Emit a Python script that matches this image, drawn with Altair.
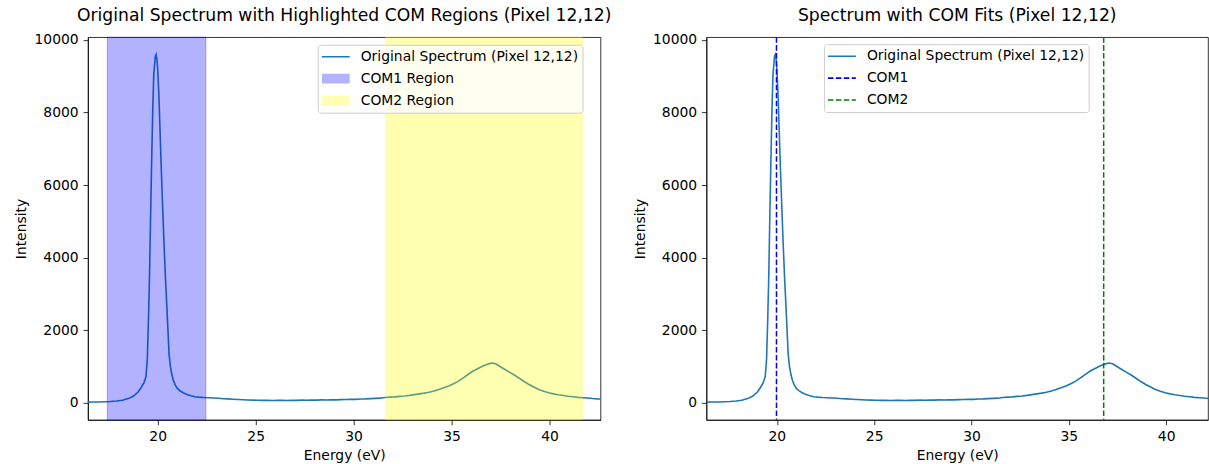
import altair as alt
import pandas as pd

FONT = "DejaVu Sans"

energy = [16.4, 16.7, 17.0, 17.3, 17.6, 17.9, 18.2, 18.5, 18.75, 19.0, 19.15, 19.3, 19.4, 19.47,
          19.53, 19.58, 19.63, 19.69, 19.75, 19.8, 19.84, 19.88, 19.92, 19.96, 20.0, 20.06, 20.12,
          20.19, 20.26, 20.33, 20.4, 20.46, 20.52, 20.58, 20.65, 20.72, 20.8, 20.9, 21.0, 21.15,
          21.3, 21.5, 21.7, 21.9, 22.1, 22.35, 22.6, 22.85, 23.1, 23.35, 23.6, 23.85, 24.1, 24.35,
          24.6, 24.85, 25.1, 25.35, 25.6, 25.85, 26.1, 26.35, 26.6, 26.85, 27.1, 27.35, 27.6, 27.85,
          28.1, 28.35, 28.6, 28.85, 29.1, 29.35, 29.6, 29.85, 30.1, 30.35, 30.6, 30.85, 31.1, 31.35,
          31.6, 31.85, 32.1, 32.35, 32.6, 32.85, 33.1, 33.35, 33.6, 33.85, 34.1, 34.35, 34.6, 34.85,
          35.1, 35.35, 35.6, 35.85, 36.1, 36.35, 36.6, 36.85, 37.05, 37.25, 37.45, 37.7, 37.95,
          38.2, 38.45, 38.7, 38.95, 39.2, 39.45, 39.7, 39.95, 40.2, 40.45, 40.7, 40.95, 41.2, 41.45,
          41.7, 41.95, 42.2, 42.45, 42.7]
intensity = [22, 25, 28, 33, 40, 52, 75, 120, 185, 300, 420, 560, 720, 1200,
             2300, 3400, 4900, 6600, 8100, 9050, 9300, 9550, 9600, 9480, 9200, 8500, 7500,
             6350, 5300, 4300, 3400, 2750, 2050, 1350, 1000, 790, 620, 490, 400, 330,
             280, 235, 200, 172, 160, 150, 145, 135, 128, 118, 112, 104, 96, 90,
             82, 78, 74, 70, 72, 68, 70, 73, 69, 75, 72, 78, 74, 80,
             77, 84, 82, 88, 86, 92, 95, 100, 98, 108, 112, 120, 125, 132,
             150, 160, 168, 182, 190, 208, 230, 250, 270, 295, 330, 370, 420, 470,
             530, 600, 690, 790, 880, 950, 1020, 1070, 1100, 1080, 1010, 930, 850,
             770, 680, 590, 510, 440, 370, 320, 280, 250, 225, 205, 185, 170, 155,
             145, 135, 122, 112, 105]

region_names = ["COM1 Region", "COM2 Region"]
region_start = [17.43, 31.63]
region_end = [22.46, 41.67]
region_colors = ["blue", "yellow"]

com_names = ["COM1", "COM2"]
com_values = [19.98, 36.79]
com_colors = ["blue", "green"]

legend_left = ["Original Spectrum (Pixel 12,12)", "COM1 Region", "COM2 Region"]
legend_left_colors = ["#1f77b4", "#b3b3ff", "#ffffb3"]
legend_right = ["Original Spectrum (Pixel 12,12)", "COM1", "COM2"]
legend_right_colors = ["#1f77b4", "#0000ff", "#008000"]

x_ticks = [20, 25, 30, 35, 40]
y_ticks = [0, 2000, 4000, 6000, 8000, 10000]

LINE_PATH = "M-1,-0.054H1V0.054H-1Z"
PATCH_PATH = "M-1,-0.35H1V0.35H-1Z"
DASH_PATH = ("M-1,-0.054H-0.604V0.054H-1Z M-0.433,-0.054H-0.037V0.054H-0.433Z "
             "M0.134,-0.054H0.53V0.054H0.134Z M0.701,-0.054H1V0.054H0.701Z")

spec_df = pd.DataFrame({"energy": energy, "intensity": intensity})
regions_df = pd.DataFrame({"name": region_names, "start": region_start,
                           "end": region_end, "color": region_colors})
com_df = pd.DataFrame({"name": com_names, "pos": com_values, "color": com_colors})

Y_DOMAIN = [-465, 10075]
H = 383

X_AXIS = alt.Axis(values=x_ticks, format="d", title="Energy (eV)")
Y_AXIS = alt.Axis(values=y_ticks, format="d", title="Intensity")


def legend_def(x, y):
    return alt.Legend(
        title=None, orient="none", legendX=x, legendY=y, direction="vertical",
        symbolSize=784, symbolStrokeWidth=0, symbolOpacity=1, clipHeight=16,
        rowPadding=6, labelOffset=11, labelFont=FONT, labelFontSize=13.9,
        labelColor="black", labelLimit=400, padding=4,
        fillColor="rgba(255,255,255,0.8)", strokeColor="#cccccc", cornerRadius=3,
    )


def spectrum_line(xdomain):
    xs = alt.Scale(domain=xdomain, nice=False, zero=False)
    ys = alt.Scale(domain=Y_DOMAIN, nice=False, zero=False)
    return alt.Chart(spec_df).mark_line(color="#1f77b4", strokeWidth=1.6, clip=True).encode(
        x=alt.X("energy:Q", scale=xs, axis=X_AXIS, title="Energy (eV)"),
        y=alt.Y("intensity:Q", scale=ys, axis=Y_AXIS, title="Intensity"),
    )


# ---- left panel
xl = [16.44, 42.6]
line_l = spectrum_line(xl)
spans = alt.Chart(regions_df).mark_rect(fillOpacity=0.3, strokeOpacity=0.3, strokeWidth=1).encode(
    x=alt.X("start:Q", axis=X_AXIS, title="Energy (eV)"),
    x2="end:Q",
    fill=alt.Fill("color:N", scale=None),
    stroke=alt.Stroke("color:N", scale=None),
)
leg_l_df = pd.DataFrame({"label_l": legend_left})
leg_l = legend_def(230, 7.6)
legend_layer_l = alt.Chart(leg_l_df).mark_point(filled=True, opacity=0).encode(
    color=alt.Color("label_l:N", scale=alt.Scale(domain=legend_left, range=legend_left_colors),
                    legend=leg_l),
    shape=alt.Shape("label_l:N", scale=alt.Scale(domain=legend_left,
                                                range=[LINE_PATH, PATCH_PATH, PATCH_PATH]),
                    legend=leg_l),
)
left = alt.layer(line_l, spans, legend_layer_l).properties(
    width=513, height=H,
    title="Original Spectrum with Highlighted COM Regions (Pixel 12,12)",
)

# ---- right panel
xr = [16.38, 42.15]
line_r = spectrum_line(xr)
rules = alt.Chart(com_df).mark_rule(strokeWidth=1.5, strokeDash=[5.55, 2.4]).encode(
    x=alt.X("pos:Q", axis=X_AXIS, title="Energy (eV)"),
    stroke=alt.Stroke("color:N", scale=None),
)
leg_r_df = pd.DataFrame({"label_r": legend_right})
leg_r = legend_def(117.6, 7)
legend_layer_r = alt.Chart(leg_r_df).mark_point(filled=True, opacity=0).encode(
    color=alt.Color("label_r:N", scale=alt.Scale(domain=legend_right, range=legend_right_colors),
                    legend=leg_r),
    shape=alt.Shape("label_r:N", scale=alt.Scale(domain=legend_right,
                                                range=[LINE_PATH, DASH_PATH, DASH_PATH]),
                    legend=leg_r),
)
right = alt.layer(line_r, rules, legend_layer_r).properties(
    width=502, height=H,
    title="Spectrum with COM Fits (Pixel 12,12)",
)

chart = alt.hconcat(left, right, spacing=20).resolve_scale(
    x="independent", y="independent", color="independent", shape="independent"
).resolve_legend(color="independent", shape="independent").properties(
    padding={"left": 14, "top": 6, "right": 0, "bottom": 0},
    background="white",
).configure_view(
    stroke="black", strokeWidth=0.8
).configure_axis(
    labelFont=FONT, labelFontSize=13.9, labelColor="black",
    titleFont=FONT, titleFontSize=13.9, titleFontWeight="normal", titleColor="black",
    tickColor="black", tickWidth=0.8, tickSize=4.9, labelPadding=4.9,
    domainColor="black", domainWidth=0.8, grid=False, titlePadding=5,
).configure_title(
    font=FONT, fontSize=17.2, fontWeight="normal", color="black",
    anchor="middle", frame="group", offset=9,
)

chart.save("out.html", embed_options={"renderer": "svg", "actions": False})
